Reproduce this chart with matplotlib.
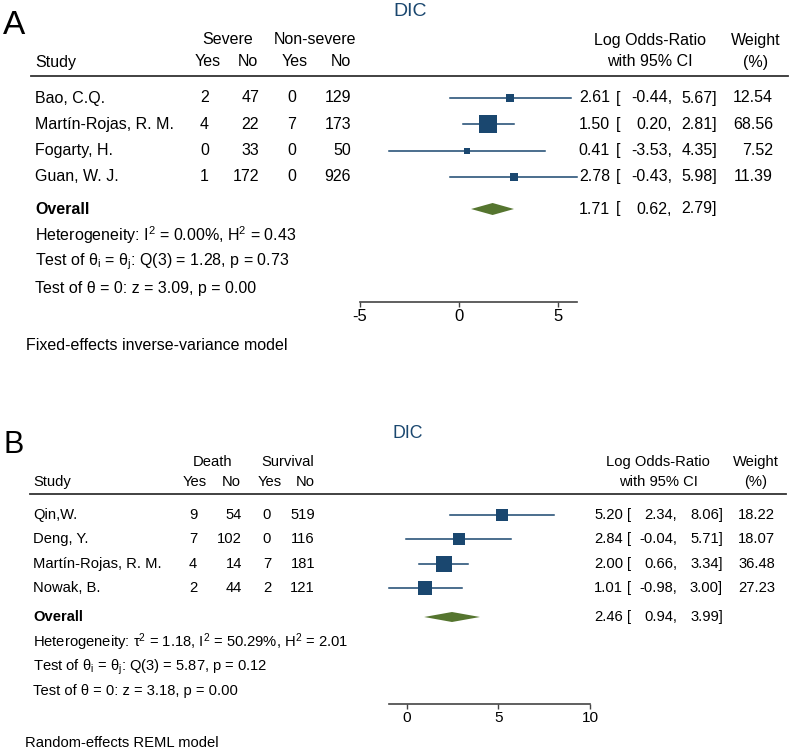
import matplotlib
matplotlib.use("Agg")
import matplotlib.pyplot as plt
import numpy as np

plt.rcParams['font.family'] = ['Liberation Sans', 'DejaVu Sans']
plt.rcParams['mathtext.fontset'] = 'custom'
plt.rcParams['mathtext.rm'] = 'Liberation Sans'
plt.rcParams['mathtext.it'] = 'Liberation Sans:italic'
plt.rcParams['axes.unicode_minus'] = False

W, H = 790, 751
NAVY = '#1a476f'
GREEN = '#55752f'

# panel A data
a_studies = ["Bao, C.Q.", "Martín-Rojas, R. M.", "Fogarty, H.", "Guan, W. J."]
a_g1_yes = [2, 4, 0, 1]
a_g1_no = [47, 22, 33, 172]
a_g2_yes = [0, 7, 0, 0]
a_g2_no = [129, 173, 50, 926]
a_est = [2.61, 1.50, 0.41, 2.78]
a_lo = [-0.44, 0.20, -3.53, -0.43]
a_hi = [5.67, 2.81, 4.35, 5.98]
a_weight = [12.54, 68.56, 7.52, 11.39]
a_overall = [1.71, 0.62, 2.79]
a_ticks = [-5, 0, 5]
a_groups = ["Severe", "Non-severe"]
a_stats = [r"Heterogeneity: I$^{\mathrm{2}}$ = 0.00%, H$^{\mathrm{2}}$ = 0.43",
           r"Test of θ$_{\mathrm{i}}$ = θ$_{\mathrm{j}}$: Q(3) = 1.28, p = 0.73",
           "Test of θ = 0: z = 3.09, p = 0.00"]
a_model = "Fixed-effects inverse-variance model"

# panel B data
b_studies = ["Qin,W.", "Deng, Y.", "Martín-Rojas, R. M.", "Nowak, B."]
b_g1_yes = [9, 7, 4, 2]
b_g1_no = [54, 102, 14, 44]
b_g2_yes = [0, 0, 7, 2]
b_g2_no = [519, 116, 181, 121]
b_est = [5.20, 2.84, 2.00, 1.01]
b_lo = [2.34, -0.04, 0.66, -0.98]
b_hi = [8.06, 5.71, 3.34, 3.00]
b_weight = [18.22, 18.07, 36.48, 27.23]
b_overall = [2.46, 0.94, 3.99]
b_ticks = [0, 5, 10]
b_groups = ["Death", "Survival"]
b_stats = [r"Heterogeneity: τ$^{\mathrm{2}}$ = 1.18, I$^{\mathrm{2}}$ = 50.29%, H$^{\mathrm{2}}$ = 2.01",
           r"Test of θ$_{\mathrm{i}}$ = θ$_{\mathrm{j}}$: Q(3) = 5.87, p = 0.12",
           "Test of θ = 0: z = 3.18, p = 0.00"]
b_model = "Random-effects REML model"

fig = plt.figure(figsize=(W / 100, H / 100), dpi=100)
bg = fig.add_axes([0, 0, 1, 1])
bg.set_xlim(0, W)
bg.set_ylim(H, 0)
bg.axis('off')


def draw_panel(letter, studies, g1y, g1n, g2y, g2n, est, lo, hi, wt, overall,
               ticks, groups, stats, model, L):
    fs = L['fs']
    bg.text(L['letter_x'], L['letter_y'], letter, fontsize=L['letter_fs'], va='center', ha='left')
    bg.text(L['title_x'], L['title_y'], "DIC", fontsize=L['title_fs'], color=NAVY, ha='center', va='center')

    # headers
    h1, h2 = L['head_y']
    cx = L['cols']
    bg.text(L['grp_x'][0], h1, groups[0], fontsize=fs, ha='center', va='center')
    bg.text(L['grp_x'][1], h1, groups[1], fontsize=fs, ha='center', va='center')
    bg.text(L['study_x'], h2, "Study", fontsize=fs, ha='left', va='center')
    for x, lab in zip(L['head_cols'], ["Yes", "No", "Yes", "No"]):
        bg.text(x, h2, lab, fontsize=fs, ha='right', va='center')
    bg.text(L['or_x'], h1, "Log Odds-Ratio", fontsize=fs, ha='center', va='center')
    bg.text(L['or_x'], h2, "with 95% CI", fontsize=fs, ha='center', va='center')
    bg.text(L['wt_hx'], h1, "Weight", fontsize=fs, ha='center', va='center')
    bg.text(L['wt_hx'], h2, "(%)", fontsize=fs, ha='center', va='center')
    bg.plot([L['line_x0'], L['line_x1']], [L['line_y'], L['line_y']], color='#333333', lw=1.3)

    # table rows
    for i, s in enumerate(studies):
        y = L['row0'] + i * L['step']
        bg.text(L['study_x'], y, s, fontsize=fs, ha='left', va='center')
        for x, v in zip(cx, [g1y[i], g1n[i], g2y[i], g2n[i]]):
            bg.text(x, y, str(v), fontsize=fs, ha='right', va='center')
        bg.text(L['est_x'], y, f"{est[i]:.2f}", fontsize=fs, ha='right', va='center')
        bg.text(L['br_x'], y, "[", fontsize=fs, ha='left', va='center')
        bg.text(L['lo_x'], y, f"{lo[i]:.2f},", fontsize=fs, ha='right', va='center')
        bg.text(L['hi_x'], y, f"{hi[i]:.2f}]", fontsize=fs, ha='right', va='center')
        bg.text(L['wt_x'], y, f"{wt[i]:.2f}", fontsize=fs, ha='right', va='center')

    oy = L['over_y']
    bg.text(L['study_x'], oy, "Overall", fontsize=fs, fontweight='bold', ha='left', va='center')
    bg.text(L['est_x'], oy, f"{overall[0]:.2f}", fontsize=fs, ha='right', va='center')
    bg.text(L['br_x'], oy, "[", fontsize=fs, ha='left', va='center')
    bg.text(L['lo_x'], oy, f"{overall[1]:.2f},", fontsize=fs, ha='right', va='center')
    bg.text(L['hi_x'], oy, f"{overall[2]:.2f}]", fontsize=fs, ha='right', va='center')
    for y, s in zip(L['stat_y'], stats):
        bg.text(L['study_x'], y, s, fontsize=fs, ha='left', va='center')
    bg.text(L['model_x'], L['model_y'], model, fontsize=fs, ha='left', va='center')

    # forest axes
    xmin = min(ticks[0], min(lo))
    xmax = max(ticks[-1], max(hi))
    x0, x1 = L['axis_x']
    ytop = L['row0'] - 0.5 * L['step']
    yax = L['axis_y']
    ax = fig.add_axes([x0 / W, (H - yax) / H, (x1 - x0) / W, (yax - ytop) / H])
    ax.patch.set_alpha(0)
    ax.set_xlim(xmin, xmax)
    ax.set_ylim((yax - L['row0']) / L['step'], -0.5)
    for sp in ['top', 'left', 'right']:
        ax.spines[sp].set_visible(False)
    ax.spines['bottom'].set_color('#444444')
    ax.spines['bottom'].set_linewidth(1.2)
    ax.set_yticks([])
    ax.set_xticks(ticks)
    ax.tick_params(axis='x', length=3.5, width=1.0, color='#444444', labelsize=fs + 0.5, pad=1.5)

    rows = np.arange(len(est))
    wmax = max(wt)
    for r in rows:
        ax.plot([lo[r], hi[r]], [r, r], color=NAVY, lw=1.1, clip_on=False)
        ax.plot(est[r], r, marker='s', color=NAVY, markersize=L['box'] * np.sqrt(wt[r] / wmax),
                markeredgewidth=0, clip_on=False)
    orow = (oy - L['row0']) / L['step']
    dh = L['dia_h'] / L['step']
    ax.fill([overall[1], overall[0], overall[2], overall[0]],
            [orow, orow - dh, orow, orow + dh], color=GREEN, lw=0, clip_on=False)


layout_a = dict(fs=11.5, letter_x=3, letter_y=26, letter_fs=24, title_x=410, title_y=11, title_fs=14,
                head_y=(40, 62), grp_x=(228, 315), study_x=35, head_cols=(221, 258, 308, 351),
                cols=(209, 259, 296, 351), or_x=650, wt_hx=756, line_x0=31, line_x1=788, line_y=76,
                row0=98, step=26.33, est_x=610, br_x=616, lo_x=672, hi_x=717, wt_x=773,
                over_y=209, stat_y=(235, 262, 288), model_x=26, model_y=345,
                axis_x=(360, 577), axis_y=302, box=12.5, dia_h=6)
layout_b = dict(fs=10.6, letter_x=3, letter_y=445, letter_fs=22, title_x=408, title_y=433, title_fs=12.8,
                head_y=(462, 482), grp_x=(213, 288), study_x=33, head_cols=(207, 241, 282, 315),
                cols=(197, 242, 271, 315), or_x=658, wt_hx=756, line_x0=30, line_x1=786, line_y=494,
                row0=515, step=24.33, est_x=623, br_x=627, lo_x=677, hi_x=723, wt_x=775,
                over_y=617, stat_y=(642, 667, 691), model_x=25, model_y=743,
                axis_x=(389, 590), axis_y=704, box=12.2, dia_h=5)

draw_panel("A", a_studies, a_g1_yes, a_g1_no, a_g2_yes, a_g2_no, a_est, a_lo, a_hi, a_weight,
           a_overall, a_ticks, a_groups, a_stats, a_model, layout_a)
draw_panel("B", b_studies, b_g1_yes, b_g1_no, b_g2_yes, b_g2_no, b_est, b_lo, b_hi, b_weight,
           b_overall, b_ticks, b_groups, b_stats, b_model, layout_b)

fig.savefig("out.png", dpi=100)
